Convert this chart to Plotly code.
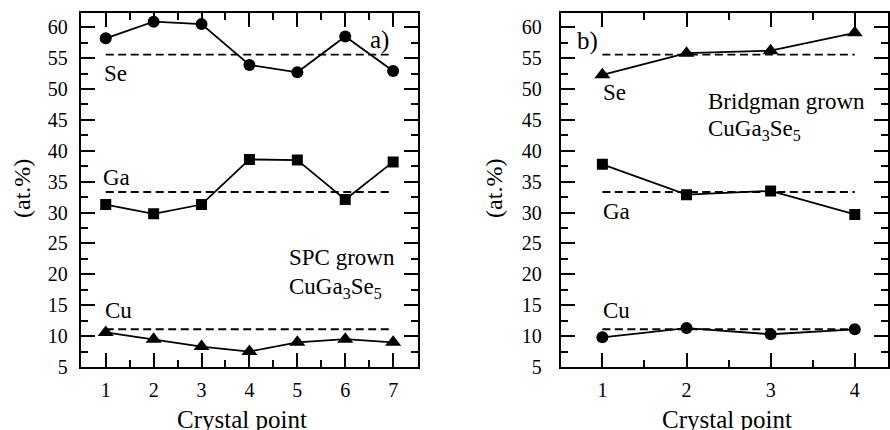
import plotly.graph_objects as go

# ---- data ----
points_a = [1, 2, 3, 4, 5, 6, 7]
se_a = [58.2, 60.9, 60.5, 53.9, 52.7, 58.5, 52.9]
ga_a = [31.3, 29.8, 31.3, 38.6, 38.5, 32.1, 38.2]
cu_a = [10.6, 9.5, 8.3, 7.5, 9.0, 9.5, 9.0]

points_b = [1, 2, 3, 4]
se_b = [52.3, 55.8, 56.2, 59.1]
ga_b = [37.8, 32.9, 33.5, 29.7]
cu_b = [9.8, 11.3, 10.3, 11.1]

ideal_se = 55.56
ideal_ga = 33.33
ideal_cu = 11.11

xtick_a = [1, 2, 3, 4, 5, 6, 7]
xtick_b = [1, 2, 3, 4]
ytick_vals = [5, 10, 15, 20, 25, 30, 35, 40, 45, 50, 55, 60]

FONT = "Times New Roman, Liberation Serif, serif"
BLACK = "black"

fig = go.Figure()

def series(x, y, symbol, size, xa, ya):
    fig.add_trace(go.Scatter(
        x=x, y=y, mode="lines+markers", xaxis=xa, yaxis=ya,
        line=dict(color=BLACK, width=1.8),
        marker=dict(symbol=symbol, size=size, color=BLACK),
        showlegend=False, hoverinfo="skip"))

def ideal(xs, v, xa, ya):
    fig.add_trace(go.Scatter(
        x=[xs[0], xs[-1]], y=[v, v], mode="lines", xaxis=xa, yaxis=ya,
        line=dict(color=BLACK, width=1.8, dash="8px,4.5px"),
        showlegend=False, hoverinfo="skip"))

for v in (ideal_se, ideal_ga, ideal_cu):
    ideal(points_a, v, "x", "y")
    ideal(points_b, v, "x2", "y2")

series(points_a, se_a, "circle", 12, "x", "y")
series(points_a, ga_a, "square", 11, "x", "y")
series(points_a, cu_a, "triangle-up", 14, "x", "y")

series(points_b, se_b, "triangle-up", 14, "x2", "y2")
series(points_b, ga_b, "square", 11, "x2", "y2")
series(points_b, cu_b, "circle", 12, "x2", "y2")

W, H = 890, 430

def xaxis(domain, rng, ticks, anchor):
    return dict(domain=domain, range=rng, anchor=anchor, tickvals=ticks,
                ticktext=[str(t) for t in ticks],
                ticks="inside", ticklen=14, tickwidth=2, tickcolor=BLACK,
                showline=True, linewidth=2, linecolor=BLACK, mirror="allticks",
                showgrid=False, zeroline=False,
                minor=dict(dtick=0.5, tick0=0.5, ticks="inside", ticklen=7, tickwidth=2, tickcolor=BLACK),
                tickfont=dict(family=FONT, size=20, color=BLACK),
                ticklabelstandoff=4)

def yaxis(anchor, standoff):
    return dict(anchor=anchor, domain=[0, 1], range=[5, 62.3], tickvals=ytick_vals,
                ticktext=[str(t) for t in ytick_vals],
                ticks="inside", ticklen=14, tickwidth=2, tickcolor=BLACK,
                showline=True, linewidth=2, linecolor=BLACK, mirror="allticks",
                showgrid=False, zeroline=False,
                minor=dict(dtick=2.5, tick0=5, ticks="inside", ticklen=7, tickwidth=2, tickcolor=BLACK),
                tickfont=dict(family=FONT, size=20, color=BLACK),
                ticklabelstandoff=standoff)

fig.update_layout(
    width=W, height=H,
    margin=dict(l=0, r=0, t=13, b=63),
    paper_bgcolor="white", plot_bgcolor="white",
    xaxis=xaxis([81 / W, 419 / W], [0.48, 7.52], xtick_a, "y"),
    xaxis2=xaxis([562 / W, 1.0], [0.505, 4.395], xtick_b, "y2"),
    yaxis=yaxis("x", 7),
    yaxis2=yaxis("x2", 13),
)

ann = []
def text(t, x, y, xa, ya, size=23, xanchor="left", yanchor="middle"):
    ann.append(dict(text=t, x=x, y=y, xref=xa, yref=ya, showarrow=False,
                    xanchor=xanchor, yanchor=yanchor,
                    font=dict(family=FONT, size=size, color=BLACK)))

# left panel labels
text("a)", 6.72, 58.0, "x", "y", size=25, xanchor="center")
text("Se", 0.92, 52.5, "x", "y")
text("Ga", 0.90, 35.6, "x", "y")
text("Cu", 0.95, 14.2, "x", "y")
text("SPC grown", 4.79, 22.8, "x", "y")
text("CuGa<sub>3</sub>Se<sub>5</sub>", 4.79, 17.8, "x", "y")

# right panel labels
text("b)", 0.826, 57.8, "x2", "y2", size=25, xanchor="center")
text("Se", 0.98, 49.4, "x2", "y2")
text("Ga", 0.98, 30.1, "x2", "y2")
text("Cu", 0.98, 14.2, "x2", "y2")
text("Bridgman grown", 2.226, 47.9, "x2", "y2")
text("CuGa<sub>3</sub>Se<sub>5</sub>", 2.226, 43.4, "x2", "y2")

# axis titles
for cx in (243 / W, 729 / W):
    ann.append(dict(text="Crystal point", x=cx, y=-(420 - 367) / 354, xref="paper", yref="paper",
                    showarrow=False, xanchor="center", yanchor="middle",
                    font=dict(family=FONT, size=25, color=BLACK)))
for cx in (22 / W, 495 / W):
    ann.append(dict(text="(at.%)", x=cx, y=(367 - 188) / 354, xref="paper", yref="paper",
                    showarrow=False, xanchor="center", yanchor="middle", textangle=-90,
                    font=dict(family=FONT, size=24, color=BLACK)))

fig.update_layout(annotations=ann)

fig.write_html("out.html")
